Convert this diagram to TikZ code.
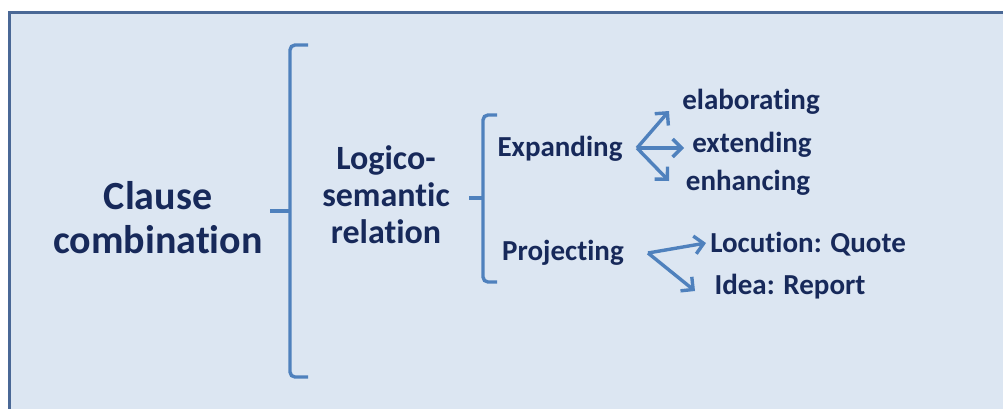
\documentclass[tikz,border=0pt]{standalone}
\usepackage{fontspec}
\setmainfont{Carlito}[Ligatures=NoCommon]
\usetikzlibrary{arrows.meta}
\definecolor{bgblue}{HTML}{DCE6F2}
\definecolor{framecol}{HTML}{4A6896}
\definecolor{linecol}{HTML}{4F81BD}
\definecolor{txtcol}{HTML}{17295A}
\tikzset{
  lbl/.style={text=txtcol, font=\bfseries\fontsize{29}{34}\selectfont, inner sep=0pt, anchor=center},
  biglbl/.style={text=txtcol, font=\bfseries\fontsize{40}{44}\selectfont, inner sep=0pt, align=center},
  midlbl/.style={text=txtcol, font=\bfseries\fontsize{34}{37}\selectfont, inner sep=0pt, align=center},
  brk/.style={draw=linecol, line width=3.4pt, rounded corners=5pt},
  arr/.style={draw=linecol, line width=3.4pt, -{Straight Barb[length=9pt,width=18pt,line width=3.4pt]}}
}
\begin{document}
\begin{tikzpicture}[x=1pt,y=-1pt]
\useasboundingbox (0,0) rectangle (1003,408);
\fill[white] (0,0) rectangle (1003,408);
\draw[fill=bgblue, draw=framecol, line width=3pt] (9,12) rectangle (1012,430);

\node[biglbl] (cc) at (158,218) {Clause\\combinat\kern0pt ion};
\node[midlbl] (lsr) at (386,195) {Logico-\\semant\kern0pt ic\\relat\kern0pt ion};

% big bracket
\draw[brk] (308,45) -- (290,45) -- (290,377) -- (308,377);
\coordinate (b1) at (290,211);
\coordinate (b1t) at (270,211);
\draw[brk] (b1t) -- (b1);

% small bracket
\draw[brk] (497,115) -- (483,115) -- (483,282) -- (497,282);
\coordinate (b2) at (483,198);
\coordinate (b2t) at (469,198);
\draw[brk] (b2t) -- (b2);

\node[lbl] (exp) at (560,149) {Expanding};
\node[lbl] (proj) at (563,253) {Projecting};

\node[lbl] (elab) at (751,102) {elaborating};
\node[lbl] (ext) at (752,145) {extending};
\node[lbl] (enh) at (748,183) {enhancing};
\node[lbl] (loc) at (808,244) {Locut\kern0pt ion: Quote};
\node[lbl] (idea) at (790,287) {Idea: Report};

\coordinate (e0) at (637,148);
\draw[arr] (e0) -- (669,111);
\draw[arr] (e0) -- (684,148);
\draw[arr] (e0) -- (669,181);

\coordinate (p0) at (648,253);
\draw[arr] (p0) -- (706,243);
\draw[arr] (p0) -- (695,291);
\end{tikzpicture}
\end{document}
